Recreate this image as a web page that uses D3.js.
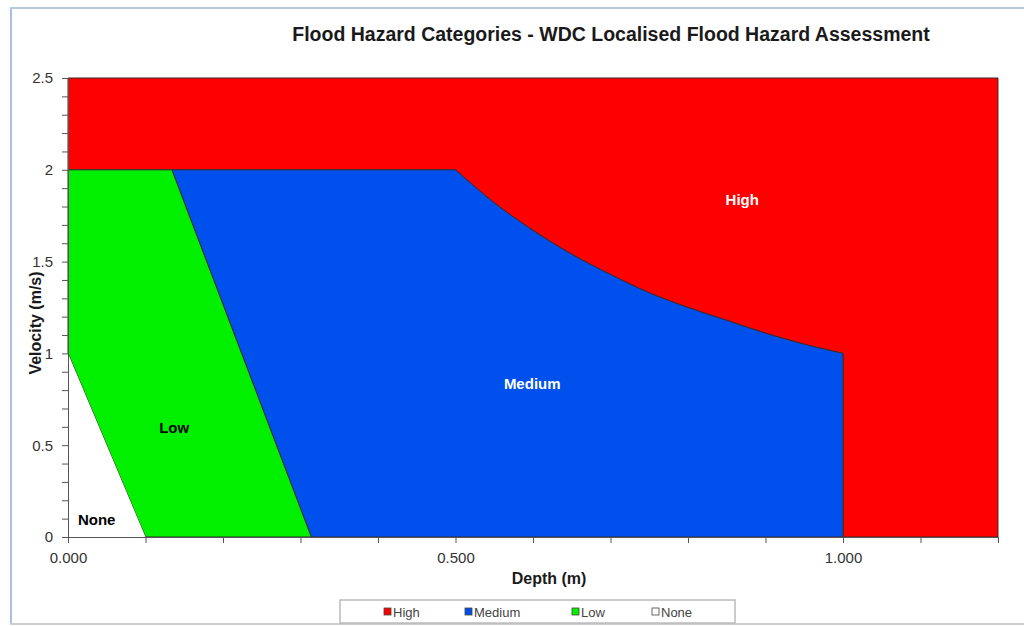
<!DOCTYPE html>
<html><head><meta charset="utf-8">
<script src="https://cdn.jsdelivr.net/npm/d3@7"></script>
<style>body{margin:0;background:#fff;}svg{display:block;font-family:"Liberation Sans",Arial,sans-serif;}</style>
</head><body>
<script>
// ---- data ----
const categories = ["High", "Medium", "Low", "None"];
const colors = ["#ff0000", "#0050ee", "#00f000", "#ffffff"];
// boundary between None and Low (depth m, velocity m/s)
const noneLowDepth = [0.0, 0.1];
const noneLowVel = [1.0, 0.0];
// boundary between Low and Medium
const lowMedDepth = [0.134, 0.314];
const lowMedVel = [2.0, 0.0];
// boundary between Medium and High (curve), then vertical drop at 1.0 m
const medHighDepth = [0.5, 0.55, 0.6, 0.65, 0.7, 0.75, 0.8, 0.85, 0.9, 0.95, 1.0];
const medHighVel = [2.0, 1.82, 1.67, 1.54, 1.43, 1.33, 1.25, 1.18, 1.11, 1.05, 1.0];
const xMax = 1.2, yMax = 2.5, vCap = 2.0;
const xTickLabels = ["0.000", "0.500", "1.000"];
const yTickLabels = ["0", "0.5", "1", "1.5", "2", "2.5"];
const regionLabels = [
  {name: "High", d: 0.870, v: 1.83, color: "#ffffff"},
  {name: "Medium", d: 0.599, v: 0.83, color: "#ffffff"},
  {name: "Low", d: 0.137, v: 0.59, color: "#000000"},
  {name: "None", d: 0.037, v: 0.085, color: "#000000"}
];

// ---- layout ----
const W = 1024, H = 626;
const m = {left: 68, right: 26, top: 78, bottom: 89};
const svg = d3.select("body").append("svg").attr("width", W).attr("height", H);

// frame
svg.append("line").attr("x1", 11).attr("x2", 11).attr("y1", 8).attr("y2", 624).attr("stroke", "#a9bfdc").attr("stroke-width", 2);
svg.append("line").attr("x1", 10).attr("x2", 1024).attr("y1", 8).attr("y2", 8).attr("stroke", "#b8c8de").attr("stroke-width", 2);
svg.append("line").attr("x1", 10).attr("x2", 1024).attr("y1", 624).attr("y2", 624).attr("stroke", "#cfcfcf").attr("stroke-width", 2);

const x = d3.scaleLinear().domain([0, xMax]).range([m.left, W - m.right]);
const y = d3.scaleLinear().domain([0, yMax]).range([H - m.bottom, m.top]);

const zip = (ds, vs) => ds.map((d, i) => [d, vs[i]]);
const nl = zip(noneLowDepth, noneLowVel);
const lm = zip(lowMedDepth, lowMedVel);
const mh = zip(medHighDepth, medHighVel);

const straight = d3.line().x(p => x(p[0])).y(p => y(p[1]));
const curved = d3.line().x(p => x(p[0])).y(p => y(p[1])).curve(d3.curveCatmullRom.alpha(0.5));
const cont = s => "L" + s.slice(1); // continue a path instead of moving
const mhEnd = mh[mh.length - 1];

const paths = {
  High: straight([[0, vCap], [0, yMax], [xMax, yMax], [xMax, 0], [mhEnd[0], 0], mhEnd]) +
        cont(curved(mh.slice().reverse())) + "Z",
  Medium: straight([lm[0]]) + cont(curved(mh)) + cont(straight([[mhEnd[0], 0], lm[1]])) + "Z",
  Low: straight([[0, vCap], lm[0], lm[1], nl[1], nl[0]]) + "Z",
  None: straight([nl[0], nl[1], [0, 0]]) + "Z"
};
const g = svg.append("g");
categories.forEach((c, i) => {
  g.append("path").attr("d", paths[c])
    .attr("fill", colors[i])
    .attr("stroke", c === "None" ? "none" : "#3a2a2a").attr("stroke-width", 1).attr("stroke-linejoin", "round");
});

// axes
const ax = svg.append("g").attr("transform", `translate(0,${H - m.bottom})`)
  .call(d3.axisBottom(x).tickValues(d3.range(0, 13).map(i => i / 10)).tickSize(6).tickPadding(9)
    .tickFormat(d => { const k = Math.round(d * 10); return k % 5 === 0 ? xTickLabels[k / 5] : ""; }));
ax.selectAll("text").attr("font-size", 15).attr("fill", "#333");
ax.selectAll("line").attr("stroke", "#555");
ax.select(".domain").attr("stroke", "#555");

const ay = svg.append("g").attr("transform", `translate(${m.left},0)`)
  .call(d3.axisLeft(y).tickValues(d3.range(0, 26).map(i => i / 10)).tickSize(6).tickPadding(9)
    .tickFormat(d => { const k = Math.round(d * 10); return k % 5 === 0 ? yTickLabels[k / 5] : ""; }));
ay.selectAll("text").attr("font-size", 15).attr("fill", "#333");
ay.selectAll("line").attr("stroke", "#555");
ay.select(".domain").attr("stroke", "#555");

// region labels
regionLabels.forEach(r => {
  svg.append("text").attr("x", x(r.d)).attr("y", y(r.v)).attr("text-anchor", "middle")
    .attr("dominant-baseline", "middle").attr("font-size", 15).attr("font-weight", "bold")
    .attr("fill", r.color).text(r.name);
});

// titles
svg.append("text").attr("x", 611).attr("y", 41).attr("text-anchor", "middle")
  .attr("font-size", 19.5).attr("font-weight", "bold").attr("fill", "#1a1a1a")
  .text("Flood Hazard Categories - WDC Localised Flood Hazard Assessment");
svg.append("text").attr("x", 549).attr("y", 584).attr("text-anchor", "middle")
  .attr("font-size", 16).attr("font-weight", "bold").attr("fill", "#1a1a1a").text("Depth (m)");
svg.append("text").attr("transform", `translate(41,${323}) rotate(-90)`).attr("text-anchor", "middle")
  .attr("font-size", 16).attr("font-weight", "bold").attr("fill", "#1a1a1a").text("Velocity (m/s)");

// legend
const lg = svg.append("g");
lg.append("rect").attr("x", 340).attr("y", 600).attr("width", 395).attr("height", 23)
  .attr("fill", "#fff").attr("stroke", "#bbb").attr("stroke-width", 1.5);
const legX = [384, 465, 572, 652];
categories.forEach((c, i) => {
  lg.append("rect").attr("x", legX[i]).attr("y", 608).attr("width", 7).attr("height", 7)
    .attr("fill", colors[i]).attr("stroke", "#444").attr("stroke-width", 0.8);
  lg.append("text").attr("x", legX[i] + 9).attr("y", 616.5).attr("font-size", 13)
    .attr("fill", "#444").text(c);
});
</script>
</body></html>
